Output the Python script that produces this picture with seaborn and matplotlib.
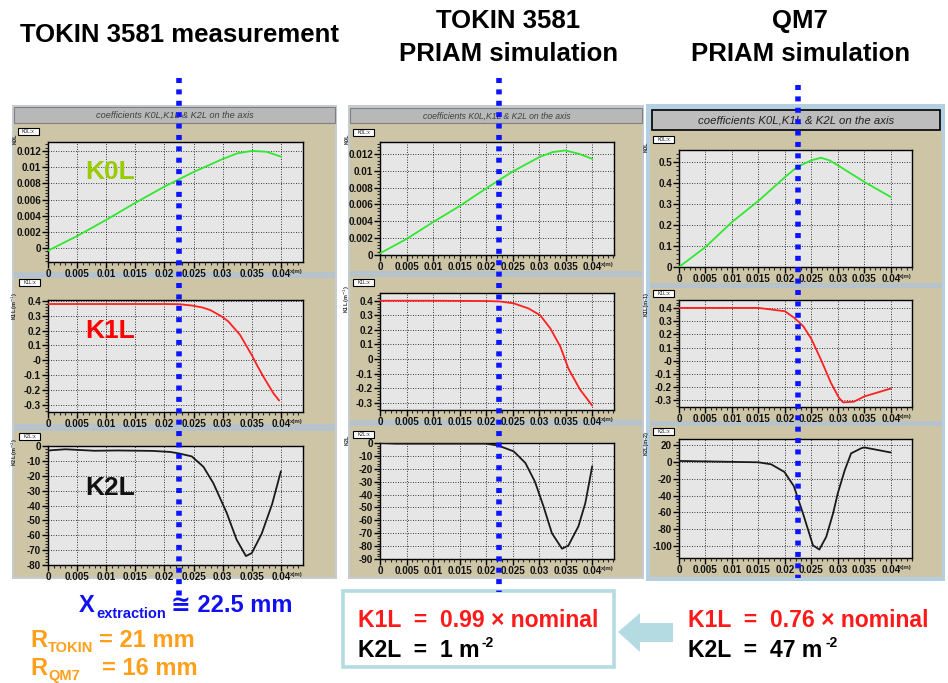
import numpy as np
import pandas as pd
import matplotlib
matplotlib.use("Agg")
import matplotlib.pyplot as plt
import matplotlib.transforms as mtrans
from matplotlib.patches import Rectangle, Polygon
from matplotlib.lines import Line2D
from matplotlib.ticker import AutoMinorLocator
import seaborn as sns

sns.set_theme(style="ticks")
plt.rcParams["font.family"] = ["Liberation Sans", "DejaVu Sans"]

# ---------------- data ----------------
x_ticks = [0, 0.005, 0.01, 0.015, 0.02, 0.025, 0.03, 0.035, 0.04]
x_ticklabels = ["0", "0.005", "0.01", "0.015", "0.02", "0.025", "0.03", "0.035", "0.04"]
x_extraction = 0.0225

# TOKIN 3581 measurement
meas_k0_x = [0, 0.005, 0.01, 0.015, 0.02, 0.025, 0.03, 0.0325, 0.035, 0.0375, 0.04]
meas_k0_y = [-0.0003, 0.0015, 0.0035, 0.0056, 0.0076, 0.0094, 0.0110, 0.0117, 0.0120, 0.0119, 0.0113]
meas_k1_x = [0, 0.01, 0.02, 0.0225, 0.0247, 0.0265, 0.0279, 0.0299, 0.031, 0.033, 0.035, 0.036, 0.037, 0.0387, 0.0397]
meas_k1_y = [0.378, 0.378, 0.378, 0.377, 0.368, 0.355, 0.337, 0.293, 0.26, 0.17, 0.035, -0.04, -0.11, -0.22, -0.27]
meas_k2_x = [0, 0.003, 0.008, 0.012, 0.018, 0.021, 0.0225, 0.0247, 0.0267, 0.0284, 0.0307, 0.0324, 0.034, 0.035, 0.0367, 0.0385, 0.04]
meas_k2_y = [-3, -2.2, -3.2, -3, -3.3, -4, -5, -7, -14, -25, -45, -63, -74, -72, -59, -39, -17]

# TOKIN 3581 PRIAM simulation
sim_k0_x = [0, 0.005, 0.01, 0.015, 0.02, 0.025, 0.03, 0.0325, 0.0349, 0.0375, 0.04]
sim_k0_y = [0.0002, 0.0019, 0.0039, 0.0058, 0.0079, 0.0099, 0.0116, 0.0122, 0.0124, 0.0120, 0.0114]
sim_k1_x = [0, 0.01, 0.02, 0.0225, 0.0252, 0.028, 0.0302, 0.0321, 0.034, 0.0355, 0.0377, 0.04]
sim_k1_y = [0.400, 0.400, 0.398, 0.395, 0.382, 0.347, 0.30, 0.21, 0.084, -0.065, -0.21, -0.32]
sim_k2_x = [0, 0.003, 0.01, 0.02, 0.0223, 0.0252, 0.0274, 0.0292, 0.0308, 0.0324, 0.0343, 0.0355, 0.0374, 0.0387, 0.04]
sim_k2_y = [0, -0.5, -0.5, -0.5, -2, -6.5, -15.5, -30, -49, -70, -82, -79.6, -64.6, -46.5, -18]

# QM7 PRIAM simulation
qm7_k0_x = [0, 0.005, 0.010, 0.0151, 0.0201, 0.0223, 0.025, 0.0268, 0.0284, 0.030, 0.035, 0.04]
qm7_k0_y = [0, 0.095, 0.214, 0.317, 0.43, 0.476, 0.508, 0.52, 0.508, 0.484, 0.405, 0.333]
qm7_k1_x = [0, 0.015, 0.02, 0.0218, 0.0235, 0.025, 0.0268, 0.0287, 0.0302, 0.031, 0.033, 0.035, 0.04]
qm7_k1_y = [0.40, 0.40, 0.375, 0.324, 0.26, 0.165, 0.009, -0.168, -0.28, -0.315, -0.31, -0.27, -0.21]
qm7_k2_x = [0, 0.015, 0.0174, 0.0199, 0.0217, 0.0234, 0.0253, 0.0265, 0.0278, 0.0291, 0.030, 0.0313, 0.0325, 0.0344, 0.035, 0.04]
qm7_k2_y = [1, -0.6, -3, -12, -29, -61, -99, -104, -89, -61, -37, -10, 10, 16, 17, 11]

k0_ticks_small = [0, 0.002, 0.004, 0.006, 0.008, 0.01, 0.012]
k0_labels_small = ["0", "0.002", "0.004", "0.006", "0.008", "0.01", "0.012"]
k1_ticks = [-0.3, -0.2, -0.1, 0, 0.1, 0.2, 0.3, 0.4]
k1_labels_m0 = ["-0.3", "-0.2", "-0.1", "-0", "0.1", "0.2", "0.3", "0.4"]
k1_labels = ["-0.3", "-0.2", "-0.1", "0", "0.1", "0.2", "0.3", "0.4"]
meas_k2_ticks = [-80, -70, -60, -50, -40, -30, -20, -10, 0]
sim_k2_ticks = [-90, -80, -70, -60, -50, -40, -30, -20, -10, 0]
qm7_k0_ticks = [0, 0.1, 0.2, 0.3, 0.4, 0.5]
qm7_k2_ticks = [-100, -80, -60, -40, -20, 0, 20]

# ---------------- figure ----------------
W, H = 948, 683
fig = plt.figure(figsize=(W / 100, H / 100), dpi=100)
fig.patch.set_facecolor("white")

TAN = "#cdc5a6"
SEP = "#b7c3cb"
HEAD = "#b8b8b8"
GREEN = "#2fe82f"
RED = "#ff2020"
BLUE = "#1010f0"
ORANGE = "#ff9f1a"


def fx(x):
    return x / W


def fy(y):
    return 1 - y / H


def add_rect(l, t, r, b, **kw):
    p = Rectangle((fx(l), fy(b)), (r - l) / W, (b - t) / H, transform=fig.transFigure, **kw)
    fig.patches.append(p)
    return p


def ftext(x, y, s, **kw):
    return fig.text(fx(x), fy(y), s, **kw)


# column backgrounds
# col 1
add_rect(12, 105, 337, 579, facecolor="#c4ccd2", edgecolor="none", zorder=0)
add_rect(14, 123, 335, 577, facecolor=TAN, edgecolor="none", zorder=0.1)
add_rect(14, 107, 335, 123, facecolor=HEAD, edgecolor="#808080", lw=0.8, zorder=0.2)
add_rect(14, 272, 335, 278, facecolor=SEP, edgecolor="none", zorder=0.2)
add_rect(14, 424, 335, 431, facecolor=SEP, edgecolor="none", zorder=0.2)
# col 2
add_rect(348, 105, 644, 579, facecolor="#c4ccd2", edgecolor="none", zorder=0)
add_rect(350, 123, 642, 577, facecolor=TAN, edgecolor="none", zorder=0.1)
add_rect(350, 108, 642, 123, facecolor=HEAD, edgecolor="#808080", lw=0.8, zorder=0.2)
add_rect(350, 271, 642, 277, facecolor=SEP, edgecolor="none", zorder=0.2)
add_rect(350, 420, 642, 426, facecolor=SEP, edgecolor="none", zorder=0.2)
# col 3
add_rect(646, 104, 945, 581, facecolor="#b3cfe0", edgecolor="none", zorder=0)
add_rect(650, 131, 942, 577, facecolor=TAN, edgecolor="none", zorder=0.1)
add_rect(652, 110, 940, 130, facecolor="#bdbdbd", edgecolor="black", lw=1.2, zorder=0.2)
add_rect(650, 283, 942, 288, facecolor=SEP, edgecolor="none", zorder=0.2)
add_rect(650, 421, 942, 426, facecolor=SEP, edgecolor="none", zorder=0.2)

hdr = "coefficients K0L,K1L & K2L on the axis"
ftext(175, 115.5, hdr, ha="center", va="center", style="italic", fontsize=6.6, color="#404040")
ftext(497, 116, hdr, ha="center", va="center", style="italic", fontsize=6.2, color="#404040")
ftext(796, 120.5, hdr, ha="center", va="center", style="italic", fontsize=8.2, color="#202020")


def make_panel(rect, xs, ys, color, xmax, ylim, yticks, ylabels, ylab, tag, tagpos):
    l, t, r, b = rect
    ax = fig.add_axes([fx(l), fy(b), (r - l) / W, (b - t) / H])
    ax.set_zorder(1)
    ax.set_facecolor("#e6e6e6")
    df = pd.DataFrame({"x": xs, "y": ys})
    sns.lineplot(data=df, x="x", y="y", ax=ax, color=color, lw=1.3, sort=False, zorder=3)
    ax.set_xlim(0, xmax)
    ax.set_ylim(*ylim)
    ax.set_xticks(x_ticks)
    ax.set_xticklabels(x_ticklabels)
    ax.set_yticks(yticks)
    ax.set_yticklabels(ylabels)
    ax.xaxis.set_minor_locator(AutoMinorLocator(5))
    ax.yaxis.set_minor_locator(AutoMinorLocator(5))
    ax.grid(True, which="major", color="black", ls=(0, (1, 2)), lw=0.6)
    ax.set_axisbelow(False)
    ax.tick_params(axis="both", which="major", direction="out", length=4, width=1,
                   labelsize=7.1, pad=1, colors="black")
    ax.tick_params(axis="both", which="minor", direction="out", length=2.2, width=0.8)
    for lab in ax.get_xticklabels() + ax.get_yticklabels():
        lab.set_fontweight("bold")
        lab.set_color("#111111")
    for s in ax.spines.values():
        s.set_color("black")
        s.set_linewidth(1)
    ax.set_xlabel("")
    ax.set_ylabel("")
    # x(m) just right of the last tick label
    ax.annotate("x(m)", xy=(1.0, 0), xycoords="axes fraction", xytext=(0, -5),
                textcoords="offset points", ha="right", va="top", fontsize=4.3, fontweight="bold")
    ax.annotate(ylab, xy=(0, 1.0), xycoords="axes fraction", xytext=(-24, 6),
                textcoords="offset points", ha="center", va="top",
                rotation=90, fontsize=4.0, fontweight="bold")
    # small histogram tag box
    tx, ty = tagpos
    add_rect(tx, ty, tx + 21, ty + 7, facecolor="white", edgecolor="black", lw=0.8, zorder=0.5)
    ftext(tx + 10.5, ty + 3.7, tag, ha="center", va="center", fontsize=3.6, zorder=0.6)
    return ax


# column 1: measurement
a11 = make_panel((48, 142, 303, 262), meas_k0_x, meas_k0_y, GREEN, 0.0438, (-0.0017, 0.0131),
                 k0_ticks_small, k0_labels_small, "K0L", "K0L:x", (18, 128))
a12 = make_panel((48, 300, 303, 412), meas_k1_x, meas_k1_y, RED, 0.0438, (-0.347, 0.405),
                 k1_ticks, k1_labels_m0, "K1L (m$^{-1}$)", "K1L:x", (19, 279))
a13 = make_panel((48, 446, 303, 565), meas_k2_x, meas_k2_y, "#1a1a1a", 0.0438, (-80, 0),
                 meas_k2_ticks, [str(v) for v in meas_k2_ticks], "K2L (m$^{-2}$)", "K2L:x", (19, 433))
# column 2: TOKIN simulation
a21 = make_panel((380, 142, 614, 255), sim_k0_x, sim_k0_y, GREEN, 0.0441, (0, 0.0134),
                 k0_ticks_small, k0_labels_small, "K0L", "K0L:x", (353, 129))
a22 = make_panel((380, 293, 614, 410), sim_k1_x, sim_k1_y, RED, 0.0441, (-0.35, 0.453),
                 k1_ticks, k1_labels, "K1L (m$^{-1}$)", "K1L:x", (353, 279))
a23 = make_panel((380, 443, 614, 559), sim_k2_x, sim_k2_y, "#1a1a1a", 0.0441, (-90, 0),
                 sim_k2_ticks, [str(v) for v in sim_k2_ticks], "K2L", "K2L:x", (353, 431))
# column 3: QM7 simulation
a31 = make_panel((679, 150, 912, 267), qm7_k0_x, qm7_k0_y, GREEN, 0.044, (0, 0.557),
                 qm7_k0_ticks, ["0", "0.1", "0.2", "0.3", "0.4", "0.5"], "K0L", "K0L:x", (653, 136))
a32 = make_panel((679, 300, 912, 407), qm7_k1_x, qm7_k1_y, RED, 0.044, (-0.35, 0.46),
                 k1_ticks, k1_labels_m0, "K1L(m-1)", "K1L:x", (653, 290))
a33 = make_panel((679, 439, 912, 558), qm7_k2_x, qm7_k2_y, "#1a1a1a", 0.044, (-114, 27),
                 qm7_k2_ticks, [str(v) for v in qm7_k2_ticks], "K2L(m-2)", "K2L:x", (653, 428))

# big coefficient labels in column 1
ftext(85, 179, "K0L", fontsize=19, fontweight="bold", color="#99cc00", va="baseline", zorder=5)
ftext(85, 338, "K1L", fontsize=19, fontweight="bold", color="#ff0000", va="baseline", zorder=5)
ftext(85, 495, "K2L", fontsize=19, fontweight="bold", color="#111111", va="baseline", zorder=5)

# blue dotted extraction lines
for ax, y0, y1 in [(a12, 78, 597), (a22, 78, 592), (a32, 85, 578)]:
    tr = mtrans.blended_transform_factory(ax.transData, fig.transFigure)
    ln = Line2D([x_extraction, x_extraction], [fy(y0), fy(y1)], transform=tr, color="#0a14ff",
                lw=4, ls=(0, (0.9, 1.15)), solid_capstyle="butt", dash_capstyle="butt", zorder=10)
    ln.set_clip_on(False)
    fig.add_artist(ln)

# titles
tkw = dict(fontsize=18.5, fontweight="bold", color="black", ha="center", va="baseline")
ftext(180, 42, "TOKIN 3581 measurement", **tkw)
ftext(508, 28, "TOKIN 3581", **tkw)
ftext(509, 61, "PRIAM simulation", **tkw)
ftext(800, 28, "QM7", **tkw)
ftext(801, 61, "PRIAM simulation", **tkw)

# bottom annotations
bkw = dict(fontsize=17, fontweight="bold", va="baseline")
ftext(79, 612, "X", color=BLUE, **bkw)
ftext(96, 618, "extraction", color=BLUE, fontsize=10.5, fontweight="bold", va="baseline")
ftext(171, 612, "\u2245 22.5 mm", color=BLUE, **bkw)

ftext(30, 647, "R", color=ORANGE, **bkw)
ftext(48, 652, "TOKIN", color=ORANGE, fontsize=10.5, fontweight="bold", va="baseline")
ftext(99, 647, "= 21 mm", color=ORANGE, **bkw)
ftext(30, 675, "R", color=ORANGE, **bkw)
ftext(48, 680, "QM7", color=ORANGE, fontsize=10.5, fontweight="bold", va="baseline")
ftext(102, 675, "= 16 mm", color=ORANGE, **bkw)

# result box
rkw = dict(fontsize=16.6, fontweight="bold", va="baseline")
add_rect(343, 591, 614, 667, facecolor="white", edgecolor="#b5dbe2", lw=2.6, zorder=1)
ftext(358, 627, "K1L  =  0.99 \u00d7 nominal", color="#ff1a1a", zorder=2, **rkw)
ftext(358, 657, "K2L  =  1 m", color="black", zorder=2, **rkw)
ftext(482, 647, "-2", color="black", fontsize=10, fontweight="bold", va="baseline", zorder=2)

# arrow
arrow_px = [(618, 632), (640, 613), (640, 623), (673, 623), (673, 642), (640, 642), (640, 652)]
fig.patches.append(Polygon([(fx(a), fy(b)) for a, b in arrow_px], closed=True,
                           transform=fig.transFigure, facecolor="#b5dbe2", edgecolor="none"))

ftext(688, 627, "K1L  =  0.76 \u00d7 nominal", color="#ff1a1a", **rkw)
ftext(688, 657, "K2L  =  47 m", color="black", **rkw)
ftext(825, 647, "-2", color="black", fontsize=10, fontweight="bold", va="baseline")

fig.savefig("out.png", dpi=100, facecolor="white")
